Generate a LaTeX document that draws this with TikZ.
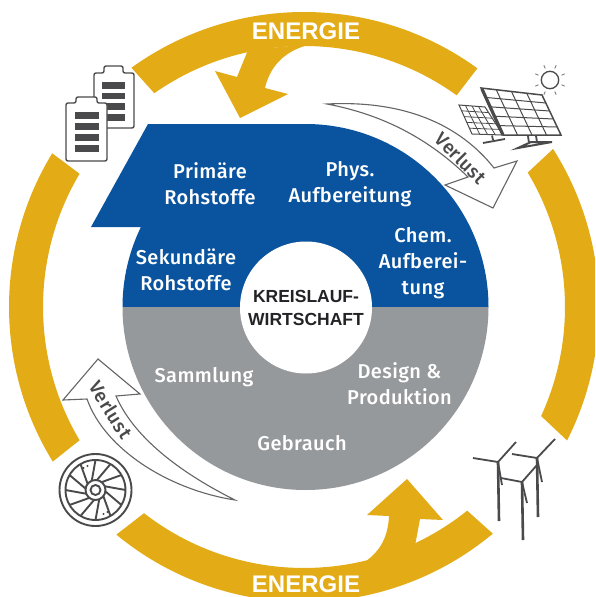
\documentclass[tikz,border=0pt]{standalone}
\usepackage{fontspec}
\setmainfont{Fira Sans}[BoldFont={Fira Sans Medium},LetterSpace=2]
\newfontfamily\headfont{Liberation Sans}
\usetikzlibrary{calc}
\definecolor{ringc}{HTML}{E3AC16}
\definecolor{bluec}{HTML}{0A549F}
\definecolor{greyc}{HTML}{96999B}
\definecolor{iconc}{HTML}{4A4A4C}
\definecolor{darkc}{HTML}{232326}
\tikzset{
  x=1pt,y=1pt,
  ringseg/.style={fill=ringc,draw=none},
  wlabel/.style={text=white,font=\fontsize{20}{26}\selectfont\bfseries,align=center,inner sep=0pt},
  elabel/.style={text=white,font=\fontsize{24}{24}\selectfont\headfont\bfseries,inner sep=0pt},
  clabel/.style={text=darkc,font=\fontsize{17.5}{23}\selectfont\headfont\bfseries,align=center,inner sep=0pt},
  vlabel/.style={text=iconc,font=\fontsize{19}{19}\selectfont\bfseries,inner sep=0pt},
  lossarrow/.style={draw=iconc!85,fill=white,line width=1.1pt,line join=miter},
  iconline/.style={draw=iconc,line width=1.4pt},
  bar/.style={fill=iconc,draw=none},
  wheelline/.style={draw=iconc,line width=1.9pt},
  gridline/.style={draw=iconc,line width=1pt},
  tower/.style={draw=iconc,line width=2.6pt},
  blade/.style={draw=iconc,line width=1.8pt},
}
\begin{document}
\begin{tikzpicture}
\useasboundingbox (0,-597) rectangle (595,0);
\clip (0,-597) rectangle (595,0);
\fill[white] (0,-597) rectangle (595,0);
% ring
\begin{scope}[shift={(304,-307)}]
\fill[ringseg] (125.8:295) arc[start angle=125.8,end angle=54,radius=295] -- (54.2:261) arc[start angle=54.2,end angle=125,radius=261] -- cycle;
\fill[ringseg] (32.4:295) arc[start angle=32.4,end angle=-26.9,radius=295] -- (-24.7:261) arc[start angle=-24.7,end angle=31,radius=261] -- cycle;
\fill[ringseg] (148.6:295) arc[start angle=148.6,end angle=211.6,radius=295] -- (210.7:261) arc[start angle=210.7,end angle=149.3,radius=261] -- cycle;
\fill[ringseg] (230.5:295) arc[start angle=230.5,end angle=309.8,radius=295] -- (308.7:261) arc[start angle=308.7,end angle=232.2,radius=261] -- cycle;
\end{scope}
% energy arrows
\fill[ringc] (248,-50) -- (237,-77) -- (215,-71) -- (240,-118) -- (288,-94) -- (265,-88)
  .. controls (270,-66) and (285,-50) .. (312,-44) -- cycle;
\fill[ringc] (415,-546) -- (420,-519) -- (443,-520) -- (407,-479) -- (367,-515) -- (389,-516)
  .. controls (388,-535) and (382,-552) .. (360,-565) -- cycle;
% disk
\fill[bluec] (122.5,-307) arc[start angle=180,end angle=154,radius=183] -- (141,-227) -- (91,-227) -- (148,-124) -- (305.5,-124) arc[start angle=90,end angle=0,radius=183] -- cycle;
\fill[greyc] (122.5,-307) arc[start angle=180,end angle=360,radius=183] -- cycle;
\node[circle,fill=white,minimum size=132pt,inner sep=0pt] (hub) at (306,-307.5) {};
% labels
\node[clabel] (kw) at (306,-307.5) {KREISLAUF-\\WIRTSCHAFT};
\node[wlabel] (pr) at (210,-184) {Primäre\\Rohstoffe};
\node[wlabel] (ph) at (350,-184) {Phys.\\Aufbereitung};
\node[wlabel] (ch) at (423,-263) {Chem.\\Aufberei-\\tung};
\node[wlabel] (se) at (186,-270) {Sekundäre\\Rohstoffe};
\node[wlabel] (sa) at (204,-377) {Sammlung};
\node[wlabel] (de) at (399.5,-384) {Design \&\\Produktion};
\node[wlabel] (ge) at (302,-443) {Gebrauch};
\node[elabel] (e1) at (306,-31) {ENERGIE};
\node[elabel] (e2) at (306,-584) {ENERGIE};
% loss arrows
\draw[lossarrow] (327,-104) .. controls (405,-100) and (460,-125) .. (494,-168) -- (517,-161) -- (493,-208) -- (445,-185) -- (468,-177) .. controls (430,-140) and (385,-115) .. cycle;
\node[vlabel,rotate=-45] (v1) at (461,-158) {Verlust};
\draw[lossarrow] (235,-500) .. controls (170,-490) and (105,-450) .. (87,-399) -- (63,-400) -- (98,-359) -- (140,-394) -- (116,-396) .. controls (135,-440) and (185,-475) .. cycle;
\node[vlabel,rotate=-58] (v2) at (111,-410) {Verlust};
% batteries
\draw[iconline,fill=white,rounded corners=2pt] (94,-128) -- (94,-73) -- (104,-73) -- (104,-66) -- (123,-66) -- (123,-73) -- (134,-73) -- (134,-128) -- cycle;
\foreach \yy in {82,92.5,103,114}{\fill[bar] (102,-\yy) rectangle (125,-\yy-6.5);}
\draw[iconline,fill=white,rounded corners=2pt] (66,-161) -- (66,-103) -- (76,-103) -- (76,-97) -- (97,-97) -- (97,-103) -- (107,-103) -- (107,-161) -- cycle;
\foreach \yy in {112,123,134,145}{\fill[bar] (75,-\yy) rectangle (99,-\yy-7);}
% wheel
\begin{scope}[shift={(95.5,-490)}]
\draw[wheelline] (0,0) circle[radius=36];
\draw[wheelline] (0,0) circle[radius=30];
\draw[wheelline] (0,0) circle[radius=10];
\draw[wheelline] (0,0) circle[radius=5];
\foreach \a in {0,30,...,330}{\draw[wheelline] (\a+22:10) -- (\a:30);}
\fill[iconc] (-12,22) circle[radius=1.1] (-8,24) circle[radius=1.1] (12,-22) circle[radius=1.1] (8,-24) circle[radius=1.1];
\end{scope}
% solar
\begin{scope}[shift={(550,-80)}]
\draw[iconc,line width=1.3pt] (0,0) circle[radius=8.7];
\foreach \a in {0,45,...,315}{\draw[iconc!70,line width=0.9pt] (\a+22.5:12.5) -- (\a+22.5:16);}
\end{scope}
\coordinate (sa) at (459,-105);\coordinate (sb) at (485,-107);\coordinate (sc) at (503,-135);\coordinate (sd) at (472,-134);
\draw[gridline,fill=white] (sa) -- (sb) -- (sc) -- (sd) -- cycle;
\foreach \t in {0.25,0.5,0.75}{\draw[gridline,line width=.8pt] ($(sa)!\t!(sb)$) -- ($(sd)!\t!(sc)$);}
\foreach \t in {0.2,0.4,0.6,0.8}{\draw[gridline,line width=.8pt] ($(sa)!\t!(sd)$) -- ($(sb)!\t!(sc)$);}
\draw[iconc,line width=1.8pt] (492,-135.5) -- (493,-140);
\draw[iconc,line width=1.8pt] (483,-143) -- (505,-139);
\coordinate (la) at (481,-88);\coordinate (lb) at (542,-95);\coordinate (lc) at (561,-135);\coordinate (ld) at (503,-135);
\draw[gridline,line width=1.5pt,fill=white] (la) -- (lb) -- (lc) -- (ld) -- cycle;
\foreach \t in {0.25,0.5,0.75}{\draw[gridline] ($(la)!\t!(lb)$) -- ($(ld)!\t!(lc)$);}
\foreach \t in {0.2,0.4,0.6,0.8}{\draw[gridline] ($(la)!\t!(ld)$) -- ($(lb)!\t!(lc)$);}
\draw[iconc,line width=3.2pt] (482,-89) -- (503,-135);
\draw[iconc,line width=1.8pt] (528,-136) -- (529,-143) (536,-136) -- (537,-142);
\draw[iconc,line width=2pt] (518,-148) -- (531,-142) -- (552,-142) -- cycle;
% wind turbines
\draw[tower] (498,-462) -- (499,-521);
\draw[blade] (498,-462) -- (473,-458) (498,-462) -- (516,-442) (498,-462) -- (502,-485);
\draw[tower] (537,-458) -- (538,-517);
\draw[blade] (537,-458) -- (512,-454) (537,-458) -- (555,-439) (537,-458) -- (542,-482);
\draw[tower] (522,-482) -- (523,-540);
\draw[blade] (522,-482) -- (501,-478) (522,-482) -- (537,-465) (522,-482) -- (527,-503);
\end{tikzpicture}
\end{document}
